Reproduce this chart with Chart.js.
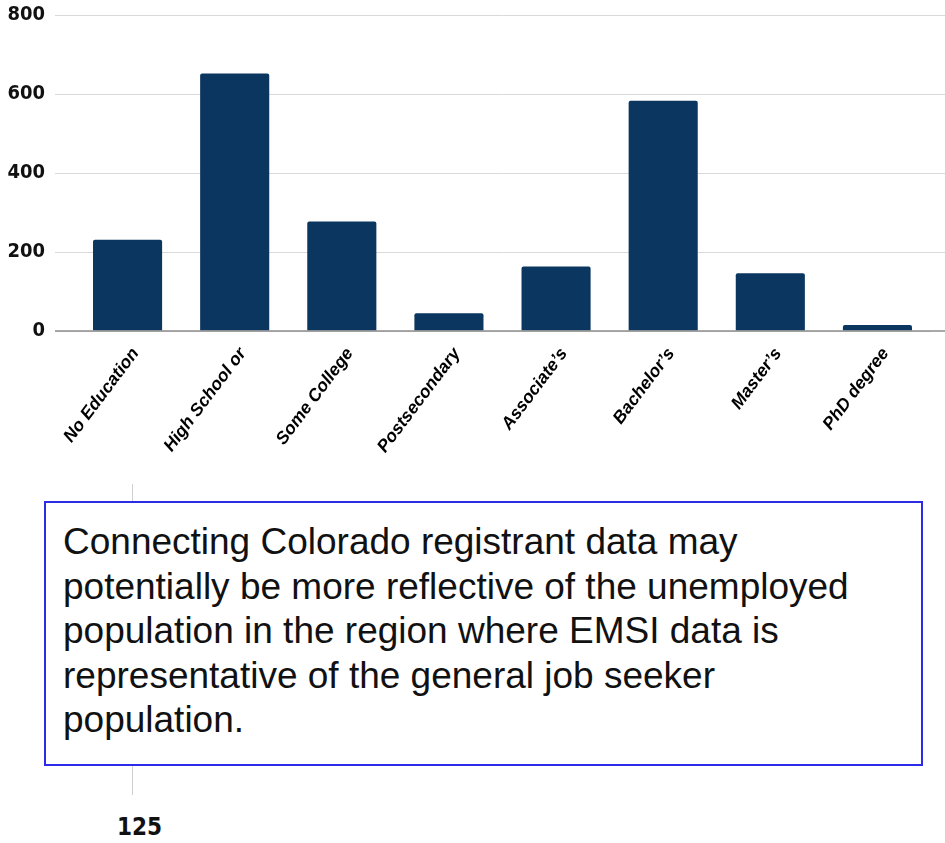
<!DOCTYPE html>
<html>
<head>
<meta charset="utf-8">
<script src="https://cdn.jsdelivr.net/npm/chart.js@4.4.1/dist/chart.umd.min.js"></script>
<style>
  body { margin: 0; background: #fff; width: 945px; height: 843px; position: relative; overflow: hidden; }
  #chartWrap { position: absolute; left: 0; top: 0; width: 945px; height: 470px; }
  .guide { position: absolute; left: 132px; top: 484px; width: 1px; height: 311px; background: #d0d0d0; }
  .note {
    position: absolute; left: 44px; top: 501px; width: 879px; height: 265px;
    box-sizing: border-box; border: 2px solid #2b2be8; background: #fff;
    padding: 17px 0 0 17px;
    font-family: "Liberation Sans", Arial, sans-serif; font-size: 37px; line-height: 44.5px; color: #111;
  }
  .stub {
    position: absolute; left: 117px; top: 813px;
    font-family: "Liberation Sans Narrow", "DejaVu Sans Condensed", "Liberation Sans", sans-serif;
    font-weight: bold; font-size: 24px; color: #111;
  }
</style>
</head>
<body>
<div id="chartWrap"><canvas id="eduChart" width="945" height="470"></canvas></div>
<div class="guide"></div>
<div class="note">Connecting Colorado registrant data may<br>potentially be more reflective of the unemployed<br>population in the region where EMSI data is<br>representative of the general job seeker<br>population.</div>
<div class="stub">125</div>
<script>
const categories = ['No Education', 'High School or', 'Some College', 'Postsecondary', 'Associate’s', 'Bachelor’s', 'Master’s', 'PhD degree'];
const counts = [231, 652, 277, 45, 163, 583, 146, 15];
const yTicks = [0, 200, 400, 600, 800];

// gridlines run past the plot on the right, zero line spans the full width
const gridEdges = {
  id: 'gridEdges',
  afterDatasetsDraw(chart) {
    const { ctx, chartArea, scales: { y } } = chart;
    ctx.save();
    ctx.strokeStyle = '#d9d9d9';
    ctx.lineWidth = 1;
    y.ticks.forEach(t => {
      if (t.value === 0) return;
      const py = Math.round(y.getPixelForValue(t.value)) + 0.5;
      ctx.beginPath();
      ctx.moveTo(chartArea.right, py);
      ctx.lineTo(chart.width, py);
      ctx.stroke();
    });
    const p0 = y.getPixelForValue(0);
    ctx.strokeStyle = '#8c8c8c';
    ctx.lineWidth = 1.5;
    ctx.beginPath();
    ctx.moveTo(chartArea.left - 19, p0);
    ctx.lineTo(chart.width, p0);
    ctx.stroke();
    ctx.restore();
  }
};

new Chart(document.getElementById('eduChart').getContext('2d'), {
  type: 'bar',
  data: {
    labels: categories,
    datasets: [{
      data: counts,
      backgroundColor: '#0a3660',
      borderRadius: 2,
      categoryPercentage: 1,
      barPercentage: 0.645
    }]
  },
  options: {
    responsive: false,
    animation: false,
    layout: { padding: { top: 15, right: 14, left: 0, bottom: 0 } },
    plugins: { legend: { display: false }, tooltip: { enabled: false } },
    scales: {
      x: {
        grid: { display: false },
        border: { display: false },
        ticks: {
          color: '#000',
          autoSkip: false,
          minRotation: 53,
          maxRotation: 53,
          padding: 5,
          labelOffset: 8,
          font: { family: '"Liberation Sans", Arial, sans-serif', size: 17.5, style: 'italic', weight: 'bold' }
        },
        afterFit: s => { s.height = 139; s.paddingLeft = 0; s.paddingRight = 0; }
      },
      y: {
        min: 0,
        max: 800,
        afterBuildTicks: s => { s.ticks = yTicks.map(v => ({ value: v })); },
        grid: { color: '#d9d9d9', lineWidth: 1, tickLength: 19 },
        border: { display: false },
        ticks: {
          color: '#111',
          padding: 10,
          font: { family: '"Liberation Sans Narrow", "DejaVu Sans Condensed", "Liberation Sans", sans-serif', size: 20, weight: 'bold' }
        },
        afterFit: s => { s.width = 74; s.paddingTop = 0; s.paddingBottom = 0; }
      }
    }
  },
  plugins: [gridEdges]
});
</script>
</body>
</html>
